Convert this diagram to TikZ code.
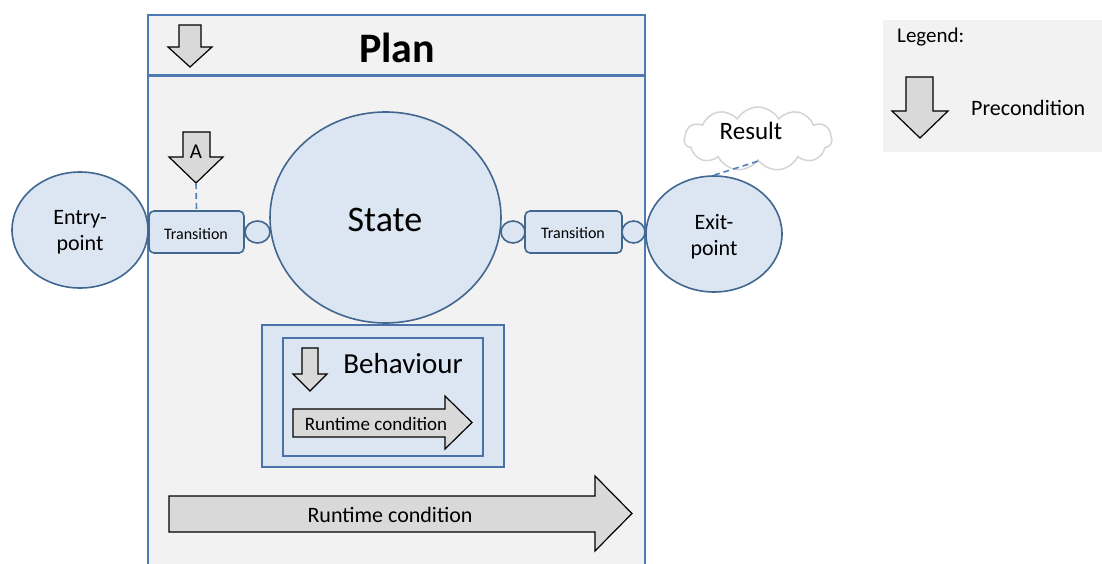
\documentclass[tikz,border=0pt]{standalone}
\usepackage{fontspec}
\setmainfont{Carlito}
\usetikzlibrary{shapes.geometric,shapes.symbols}
\definecolor{planfill}{HTML}{F2F2F2}
\definecolor{planline}{HTML}{4F7BB5}
\definecolor{shapefill}{HTML}{DCE6F2}
\definecolor{shapeline}{HTML}{41668F}
\definecolor{boxline}{HTML}{4A72A8}
\definecolor{arrowfill}{HTML}{D9D9D9}
\definecolor{cloudline}{HTML}{D4D4D4}
\definecolor{dashblue}{HTML}{4F81BD}

% downward precondition arrow: left, right, shaft left, shaft right, top, shaft end, tip
\newcommand\precondarrow[7]{%
  \draw[condarrow] (#3,#5) -- (#4,#5) -- (#4,#6) -- (#2,#6) -- ({(#1+#2)/2},#7)
    -- (#1,#6) -- (#3,#6) -- cycle;}
% rightward runtime arrow: start, shaft top, shaft bottom, head base, head top, head bottom, tip
\newcommand\runtimearrow[7]{%
  \draw[condarrow] (#1,#2) -- (#4,#2) -- (#4,#5) -- (#7,{(#5+#6)/2}) -- (#4,#6)
    -- (#4,#3) -- (#1,#3) -- cycle;}

\begin{document}
\begin{tikzpicture}[x=1pt,y=-1pt,
  condarrow/.style={draw=black, line width=1.2pt, fill=arrowfill, line join=miter},
  bubble/.style={ellipse, draw=shapeline, line width=1.6pt, fill=shapefill, inner sep=0pt},
  transbox/.style={rectangle, rounded corners=5pt, draw=shapeline, line width=1.6pt,
    fill=shapefill, minimum width=95pt, minimum height=42pt, inner sep=0pt},
  behbox/.style={draw=boxline, line width=1.5pt, fill=shapefill},
  link/.style={dashblue, line width=1.6pt, dash pattern=on 6pt off 4pt},
  txt/.style={anchor=base, inner sep=0pt, text=black}]
\useasboundingbox (0,0) rectangle (1102,564);

% plan frame with header
\draw[planline, line width=2pt, fill=planfill] (148,15) rectangle (645,600);
\draw[planline, line width=3pt] (148,76) -- (645,76);
\precondarrow{168}{212}{179}{201}{25}{47}{67}
\node[txt, font=\bfseries\fontsize{42}{48}\selectfont] (plantitle) at (397,63) {Plan};

% legend
\fill[planfill] (883,20) rectangle (1102,152);
\node[txt, anchor=base west, font=\fontsize{21}{24}\selectfont] (legendtitle) at (897,43) {Legend:};
\precondarrow{892}{948}{906}{933}{77}{111}{138}
\node[txt, anchor=base west, font=\fontsize{22}{26}\selectfont] (legendpre) at (971,116) {Precondition};

% entry and exit points
\node[bubble, minimum width=136pt, minimum height=116pt] (entry) at (80,230) {};
\node[txt, font=\fontsize{22}{26}\selectfont] (entrytxt1) at (80,224) {Entry-};
\node[txt, font=\fontsize{22}{26}\selectfont] (entrytxt2) at (80,250) {point};
\node[bubble, minimum width=136pt, minimum height=116pt] (exit) at (714,234) {};
\node[txt, font=\fontsize{22}{26}\selectfont] (exittxt1) at (714,229) {Exit-};
\node[txt, font=\fontsize{22}{26}\selectfont] (exittxt2) at (714,255) {point};

% state
\node[bubble, minimum width=231pt, minimum height=211pt] (state) at (385.5,217.5) {};
\node[txt, font=\fontsize{36}{42}\selectfont] (statetxt) at (385,231) {State};

% transitions with their ports
\node[transbox] (trL) at (196.5,232) {};
\node[txt, font=\fontsize{16}{19}\selectfont] (trLtxt) at (196,239) {Transition};
\node[bubble, minimum width=25pt, minimum height=22pt] (portL) at (257.5,232) {};
\node[bubble, minimum width=24pt, minimum height=22pt] (portR1) at (513,232) {};
\node[transbox, minimum width=97pt] (trR) at (573.5,232) {};
\node[txt, font=\fontsize{16}{19}\selectfont] (trRtxt) at (573,238.5) {Transition};
\node[bubble, minimum width=23pt, minimum height=22pt] (portR2) at (633.5,232) {};

% precondition A on the left transition
\precondarrow{169}{223}{183}{210}{132}{157}{183}
\node[txt, font=\fontsize{21}{24}\selectfont] (atxt) at (196,159) {A};
\coordinate (atip) at (196,183);
\draw[link] (atip) -- (trL.north);

% result cloud
\node[cloud, cloud puffs=11, cloud puff arc=120, aspect=2.4, draw=cloudline,
  line width=1.5pt, fill=white, minimum width=148pt, minimum height=64pt,
  inner sep=0pt] (result) at (758,139) {};
\node[txt, font=\fontsize{25}{29}\selectfont] (resulttxt) at (751,140) {Result};
\draw[link] (exit.north) -- (result.south);

% behaviour
\draw[behbox] (262,325) rectangle (504,467);
\draw[behbox] (283,338) rectangle (483,456);
\precondarrow{293}{327}{302}{318}{348}{374}{391}
\node[txt, font=\fontsize{29}{34}\selectfont] (behtxt) at (403,373) {Behaviour};
\runtimearrow{293}{409}{437}{445}{396}{449}{472}
\node[txt, font=\fontsize{19}{22}\selectfont] (rtsmall) at (376,430) {Runtime condition};

% plan-level runtime condition
\runtimearrow{169}{496}{532}{595}{476}{551}{632}
\node[txt, font=\fontsize{22}{26}\selectfont] (rtbig) at (390,522) {Runtime condition};
\end{tikzpicture}
\end{document}
